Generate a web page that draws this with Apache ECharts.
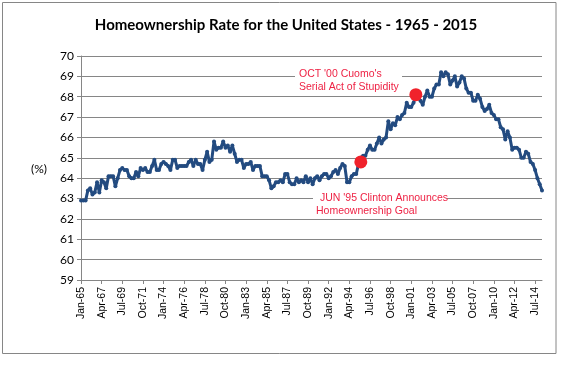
<!DOCTYPE html>
<html>
<head>
<meta charset="utf-8">
<script src="https://cdn.jsdelivr.net/npm/echarts@6/dist/echarts.min.js"></script>
<style>
html,body{margin:0;padding:0;background:#fff;}
#chart{width:569px;height:371px;}
</style>
</head>
<body>
<div id="chart"></div>
<script>
// Quarterly US homeownership rate, Q1 1965 - Q2 2015 (%)
const startYear = 1965;
const quarterMonths = ['Jan', 'Apr', 'Jul', 'Oct'];
const rate = [
  62.9, 62.9, 62.9, 63.4,  // 1965
  63.5, 63.2, 63.3, 63.8,  // 1966
  63.3, 63.9, 63.8, 63.5,  // 1967
  64.1, 64.1, 64.1, 63.6,  // 1968
  64.0, 64.4, 64.5, 64.4,  // 1969
  64.4, 64.1, 64.0, 64.0,  // 1970
  64.3, 64.1, 64.5, 64.4,  // 1971
  64.5, 64.3, 64.3, 64.6,  // 1972
  64.9, 64.4, 64.4, 64.7,  // 1973
  64.8, 64.7, 64.6, 64.4,  // 1974
  64.9, 64.9, 64.5, 64.6,  // 1975
  64.6, 64.6, 64.6, 64.8,  // 1976
  64.9, 64.6, 64.9, 64.7,  // 1977
  64.7, 64.4, 64.9, 65.3,  // 1978
  64.8, 64.9, 65.8, 65.4,  // 1979
  65.5, 65.5, 65.8, 65.5,  // 1980
  65.6, 65.3, 65.6, 65.2,  // 1981
  64.8, 64.9, 64.9, 64.5,  // 1982
  64.7, 64.7, 64.8, 64.4,  // 1983
  64.6, 64.6, 64.6, 64.1,  // 1984
  64.1, 64.1, 63.9, 63.5,  // 1985
  63.6, 63.8, 63.8, 63.9,  // 1986
  63.8, 64.2, 64.2, 63.8,  // 1987
  63.7, 63.7, 64.0, 63.8,  // 1988
  63.9, 63.8, 64.1, 63.8,  // 1989
  64.0, 63.7, 64.0, 64.1,  // 1990
  63.9, 64.1, 64.2, 64.2,  // 1991
  64.0, 64.1, 64.3, 64.4,  // 1992
  64.2, 64.5, 64.7, 64.6,  // 1993
  63.8, 63.8, 64.1, 64.2,  // 1994
  64.2, 64.7, 65.0, 65.1,  // 1995
  65.1, 65.4, 65.6, 65.4,  // 1996
  65.4, 65.7, 66.0, 65.7,  // 1997
  65.9, 66.0, 66.8, 66.4,  // 1998
  66.7, 66.6, 67.0, 66.9,  // 1999
  67.1, 67.2, 67.7, 67.5,  // 2000
  67.5, 67.7, 68.1, 68.0,  // 2001
  67.8, 67.6, 68.0, 68.3,  // 2002
  68.0, 68.0, 68.4, 68.6,  // 2003
  68.6, 69.2, 69.0, 69.2,  // 2004
  69.1, 68.6, 68.8, 69.0,  // 2005
  68.5, 68.7, 69.0, 68.9,  // 2006
  68.4, 68.2, 68.2, 67.8,  // 2007
  67.8, 68.1, 67.9, 67.5,  // 2008
  67.3, 67.4, 67.6, 67.2,  // 2009
  67.1, 66.9, 66.9, 66.5,  // 2010
  66.4, 65.9, 66.3, 66.0,  // 2011
  65.4, 65.5, 65.5, 65.4,  // 2012
  65.0, 65.0, 65.3, 65.2,  // 2013
  64.8, 64.7, 64.4, 64.0,  // 2014
  63.7, 63.4               // 2015
];
const categories = rate.map((_, i) =>
  quarterMonths[i % 4] + '-' + String((startYear + Math.floor(i / 4)) % 100).padStart(2, '0'));

// Highlighted events
const eventCategories = ['Jul-95', 'Jul-01'];
const eventValues = [64.8, 68.1];
const eventTextClinton = ["JUN '95 Clinton Announces", 'Homeownership Goal'];
const eventTextCuomo = ["OCT '00 Cuomo's", 'Serial Act of Stupidity'];

const titleText = 'Homeownership Rate for the United States - 1965 - 2015';
const yUnit = '(%)';
const yMin = 59, yMax = 70, yStep = 1;

const chart = echarts.init(document.getElementById('chart'), null, {renderer: 'canvas'});
const annoColor = '#EE2244';
const annoFont = '10.5px "Liberation Sans", Arial, sans-serif';
chart.setOption({
  animation: false,
  backgroundColor: '#ffffff',
  title: {
    text: titleText,
    left: 281, top: 13, textAlign: 'center',
    textStyle: {fontFamily: 'Lato', fontWeight: 'bold', fontSize: 15, color: '#000'}
  },
  grid: {left: 81, right: 27, top: 56, bottom: 91, containLabel: false},
  xAxis: {
    type: 'category',
    data: categories,
    boundaryGap: false,
    axisLine: {lineStyle: {color: '#868686', width: 1}},
    axisTick: {show: true, interval: 8, length: 4, lineStyle: {color: '#868686'}},
    axisLabel: {interval: 8, rotate: 90, margin: 7, fontSize: 10.5,
      fontFamily: '"Liberation Sans", Arial, sans-serif', color: '#000'},
    splitLine: {show: false}
  },
  yAxis: {
    type: 'value',
    min: yMin, max: yMax, interval: yStep,
    axisLine: {show: true, lineStyle: {color: '#868686', width: 1}},
    axisTick: {show: true, length: 4, lineStyle: {color: '#868686'}},
    axisLabel: {fontSize: 12, margin: 7, fontFamily: 'Lato, "Liberation Sans", sans-serif', color: '#000'},
    splitLine: {show: true, lineStyle: {color: '#868686', width: 1}}
  },
  series: [
    {
      type: 'line',
      data: rate,
      symbol: 'circle',
      symbolSize: 4,
      showAllSymbol: true,
      itemStyle: {color: '#234B80'},
      lineStyle: {color: '#234B80', width: 3},
      z: 3
    },
    {
      type: 'scatter',
      data: eventCategories.map((c, i) => [c, eventValues[i]]),
      symbol: 'circle',
      symbolSize: 13,
      itemStyle: {color: '#F0222B', opacity: 1},
      z: 5
    }
  ],
  graphic: [
    {type: 'rect', shape: {x: 2.5, y: 2.5, width: 553.5, height: 351}, style: {fill: null, stroke: '#868686', lineWidth: 1}, z: 0, silent: true},
    {type: 'text', left: 31, top: 163, style: {text: yUnit, font: '12px Lato, "Liberation Sans", sans-serif', fill: '#000'}},
    {type: 'rect', shape: {x: 295, y: 68, width: 107, height: 27}, style: {fill: '#fff'}, z: 10},
    {type: 'text', x: 299, y: 69, z: 11, style: {text: eventTextCuomo[0], font: annoFont, fill: annoColor}},
    {type: 'text', x: 299, y: 82, z: 11, style: {text: eventTextCuomo[1], font: annoFont, fill: annoColor}},
    {type: 'rect', shape: {x: 313, y: 192, width: 134, height: 27}, style: {fill: '#fff'}, z: 10},
    {type: 'text', x: 320, y: 193, z: 11, style: {text: eventTextClinton[0], font: annoFont, fill: annoColor}},
    {type: 'text', x: 316, y: 206, z: 11, style: {text: eventTextClinton[1], font: annoFont, fill: annoColor}}
  ]
});
</script>
</body>
</html>
